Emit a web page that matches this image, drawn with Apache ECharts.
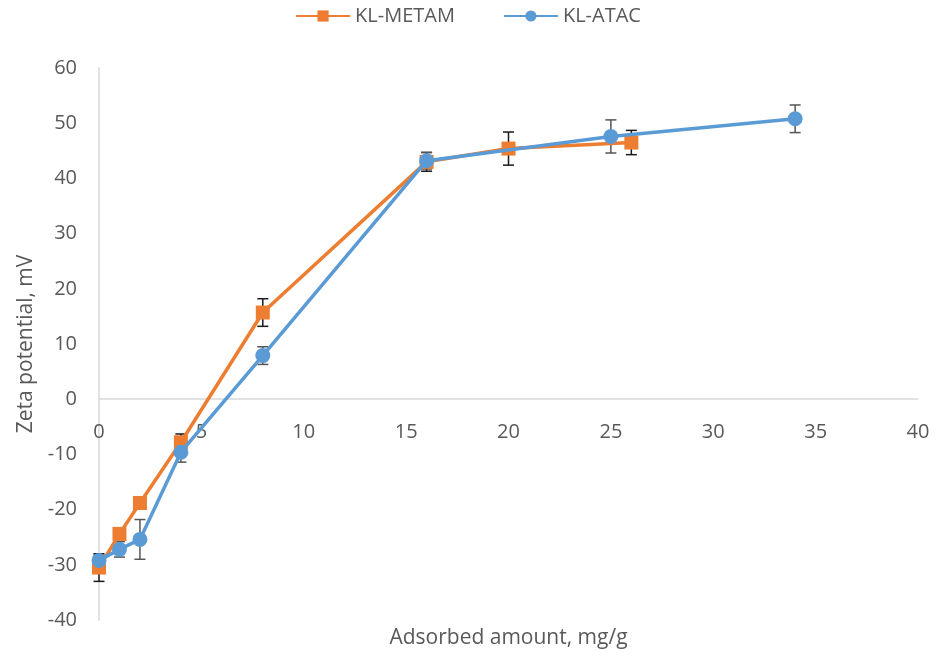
<!DOCTYPE html>
<html>
<head>
<meta charset="utf-8">
<script src="https://cdn.jsdelivr.net/npm/echarts@6/dist/echarts.min.js"></script>
<style>
  html, body { margin: 0; padding: 0; background: #fff; }
  #chart { width: 936px; height: 657px; }
</style>
</head>
<body>
<div id="chart"></div>
<script>
// Zeta potential versus adsorbed amount for two surfactant-modified samples
const metamX = [0, 1, 2, 4, 8, 16, 20, 26];
const metamY = [-30.5, -24.4, -18.8, -7.8, 15.7, 43.0, 45.4, 46.5];
const metamErr = [2.5, 0.8, 0.8, 1.5, 2.5, 1.7, 3.0, 2.2];

const atacX = [0, 1, 2, 4, 8, 16, 25, 34];
const atacY = [-29.2, -27.2, -25.4, -9.6, 7.9, 43.2, 47.6, 50.8];
const atacErr = [1.0, 1.4, 3.6, 1.8, 1.6, 1.5, 3.0, 2.5];

const xTicks = [0, 5, 10, 15, 20, 25, 30, 35, 40];
const yTicks = [-40, -30, -20, -10, 0, 10, 20, 30, 40, 50, 60];

const FONT = '"Open Sans", "Noto Sans", sans-serif';
const TEXT = '#595959';
const GRID = { left: 99, right: 18, top: 68, bottom: 37 };

function pairs(xs, ys) { return xs.map((x, i) => [x, ys[i]]); }
function errRows(xs, ys, es) { return xs.map((x, i) => [x, ys[i] - es[i], ys[i] + es[i]]); }

function errorBarSeries(rows, color) {
  return {
    type: 'custom',
    z: 1,
    silent: true,
    data: rows,
    encode: { x: 0, y: [1, 2] },
    renderItem: function (params, api) {
      const lo = api.coord([api.value(0), api.value(1)]);
      const hi = api.coord([api.value(0), api.value(2)]);
      const half = 5.5;
      const style = { stroke: color, lineWidth: 1.5, fill: null };
      return {
        type: 'group',
        children: [
          { type: 'line', shape: { x1: lo[0], y1: lo[1], x2: hi[0], y2: hi[1] }, style: style },
          { type: 'line', shape: { x1: lo[0] - half, y1: lo[1], x2: lo[0] + half, y2: lo[1] }, style: style },
          { type: 'line', shape: { x1: hi[0] - half, y1: hi[1], x2: hi[0] + half, y2: hi[1] }, style: style }
        ]
      };
    }
  };
}

const baseX = {
  type: 'value',
  min: xTicks[0],
  max: xTicks[xTicks.length - 1],
  interval: xTicks[1] - xTicks[0],
  axisTick: { show: false },
  splitLine: { show: false }
};

const chart = echarts.init(document.getElementById('chart'));
chart.setOption({
  animation: false,
  backgroundColor: '#ffffff',
  textStyle: { fontFamily: FONT },
  title: {
    text: 'Adsorbed amount, mg/g',
    left: 'center',
    top: 628,
    padding: 0,
    textStyle: { fontFamily: FONT, fontSize: 21, fontWeight: 'normal', color: TEXT }
  },
  legend: {
    data: ['KL-METAM', 'KL-ATAC'],
    top: 1,
    left: 'center',
    itemWidth: 54,
    itemHeight: 14,
    itemGap: 48,
    textStyle: { fontFamily: FONT, fontSize: 20, color: TEXT }
  },
  grid: Object.assign({ containLabel: false, outerBoundsMode: 'none' }, GRID),
  xAxis: [
    // axis line crossing at y = 0
    Object.assign({}, baseX, {
      axisLine: { onZero: true, lineStyle: { color: '#D9D9D9', width: 1.5 } },
      axisLabel: { show: false }
    }),
    // tick labels placed just under the zero line (offset set after layout)
    Object.assign({}, baseX, {
      position: 'bottom',
      offset: 0,
      axisLine: { show: false, onZero: false },
      axisLabel: { margin: 23, fontSize: 20, color: TEXT, fontFamily: FONT }
    })
  ],
  yAxis: {
    type: 'value',
    min: yTicks[0],
    max: yTicks[yTicks.length - 1],
    interval: yTicks[1] - yTicks[0],
    name: 'Zeta potential, mV',
    nameLocation: 'middle',
    nameGap: 58,
    nameTextStyle: { fontSize: 21, color: TEXT, fontFamily: FONT },
    axisLine: { show: true, lineStyle: { color: '#D9D9D9', width: 1.5 } },
    axisTick: { show: false },
    splitLine: { show: false },
    axisLabel: { margin: 22, fontSize: 20, color: TEXT, fontFamily: FONT }
  },
  series: [
    errorBarSeries(errRows(metamX, metamY, metamErr), '#1a1a1a'),
    errorBarSeries(errRows(atacX, atacY, atacErr), '#555555'),
    {
      name: 'KL-METAM',
      type: 'line',
      z: 2,
      data: pairs(metamX, metamY),
      symbol: 'rect',
      symbolSize: 14,
      color: '#ED7D31',
      lineStyle: { width: 3.5, color: '#ED7D31' },
      itemStyle: { color: '#ED7D31' }
    },
    {
      name: 'KL-ATAC',
      type: 'line',
      z: 3,
      data: pairs(atacX, atacY),
      symbol: 'circle',
      symbolSize: 15,
      color: '#5B9BD5',
      lineStyle: { width: 3.5, color: '#5B9BD5' },
      itemStyle: { color: '#5B9BD5' }
    }
  ]
});

// move the label axis up so its labels sit under the y = 0 line,
// and centre the x-axis title under the plot area
const zeroY = chart.convertToPixel({ yAxisIndex: 0 }, 0);
const bottomY = chart.convertToPixel({ yAxisIndex: 0 }, yTicks[0]);
const midX = chart.convertToPixel({ xAxisIndex: 0 }, (xTicks[0] + xTicks[xTicks.length - 1]) / 2);
const titleW = echarts.format.getTextRect
  ? echarts.format.getTextRect('Adsorbed amount, mg/g', '21px ' + FONT).width
  : 0;
chart.setOption({
  xAxis: [{}, { offset: zeroY - bottomY }],
  title: titleW ? { left: midX - titleW / 2 } : {}
});
</script>
</body>
</html>
